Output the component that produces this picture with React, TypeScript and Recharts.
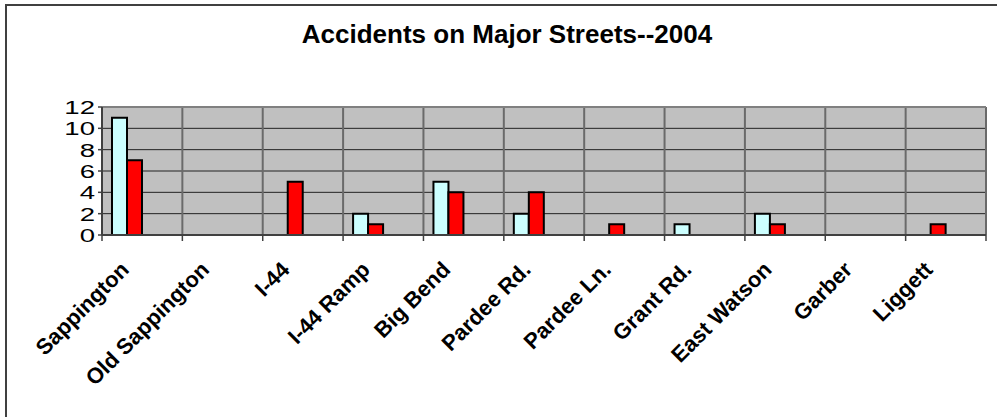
import React from 'react';
import { BarChart, Bar, XAxis, YAxis, CartesianGrid, ReferenceLine } from 'recharts';

const streets = [
  'Sappington', 'Old Sappington', 'I-44', 'I-44 Ramp', 'Big Bend', 'Pardee Rd.',
  'Pardee Ln.', 'Grant Rd.', 'East Watson', 'Garber', 'Liggett',
];
// blank cells in the sheet -> null, no bar drawn
const cyanValues = [11, null, null, 2, 5, 2, null, 1, 2, null, null];
const redValues = [7, null, 5, 1, 4, 4, 1, null, 1, null, 1];
const yTicks = [0, 2, 4, 6, 8, 10, 12];

const data = streets.map((name, i) => ({ name, cyan: cyanValues[i], red: redValues[i] }));

const W = 997;
const H = 417;
const PLOT_LEFT = 102;
const PLOT_RIGHT = 986;
const PLOT_TOP = 107;
const PLOT_BOTTOM = 235;
const BAND = (PLOT_RIGHT - PLOT_LEFT) / streets.length;
const FONT = 'Arial, "Liberation Sans", sans-serif';

const XTick = (props: any) => {
  const { x, y, payload, index } = props;
  const left = x - BAND / 2;
  return (
    <g>
      <line x1={left} y1={y} x2={left} y2={y + 6} stroke="#404040" strokeWidth={1.5} />
      {index === streets.length - 1 && (
        <line x1={left + BAND} y1={y} x2={left + BAND} y2={y + 6} stroke="#404040" strokeWidth={1.5} />
      )}
      <text
        x={0}
        y={0}
        transform={`translate(${x - 12},${y + 36}) rotate(-45)`}
        textAnchor="end"
        fontFamily={FONT}
        fontWeight="bold"
        fontSize={22}
        fill="#000"
      >
        {payload.value}
      </text>
    </g>
  );
};

const YTick = (props: any) => {
  const { x, y, payload } = props;
  return (
    <text
      x={0}
      y={0}
      dy="0.36em"
      transform={`translate(${x},${y}) scale(1.45,1)`}
      textAnchor="end"
      fontFamily={FONT}
      fontSize={19}
      fill="#000"
    >
      {payload.value}
    </text>
  );
};

export default function App() {
  return (
    <div style={{ position: 'absolute', left: 0, top: 0, width: W, height: H, background: '#fff', overflow: 'hidden' }}>
      <svg width={W} height={H} style={{ position: 'absolute', left: 0, top: 0 }}>
        <path d={`M6 ${H} L6 5 L${W} 5`} fill="none" stroke="#404040" strokeWidth={2} />
        <text x={507} y={43} textAnchor="middle" fontFamily={FONT} fontWeight="bold" fontSize={26} fill="#000">
          Accidents on Major Streets--2004
        </text>
      </svg>
      <div style={{ position: 'absolute', left: 0, top: 0 }}>
        <BarChart
          width={W}
          height={H}
          data={data}
          margin={{ top: PLOT_TOP, right: W - PLOT_RIGHT, bottom: 0, left: 0 }}
          barCategoryGap={10}
          barGap={0}
        >
          <CartesianGrid vertical={false} fill="#C0C0C0" stroke="#222" strokeWidth={1} />
          <CartesianGrid
            horizontal={false}
            stroke="#6a6a6a"
            strokeWidth={2}
            verticalCoordinatesGenerator={({ offset }: any) =>
              streets.map((_, i) => offset.left + ((i + 1) * offset.width) / streets.length)
            }
          />
          <ReferenceLine y={12} stroke="#808080" strokeWidth={2} />
          <XAxis
            dataKey="name"
            interval={0}
            height={H - PLOT_BOTTOM}
            tickLine={false}
            tickSize={0}
            tickMargin={0}
            axisLine={{ stroke: '#404040', strokeWidth: 2 }}
            tick={<XTick />}
          />
          <YAxis
            width={PLOT_LEFT}
            domain={[0, 12]}
            ticks={yTicks}
            interval={0}
            tickSize={4}
            tickMargin={3}
            tickLine={{ stroke: '#404040', strokeWidth: 1.5 }}
            axisLine={{ stroke: '#404040', strokeWidth: 2 }}
            tick={<YTick />}
          />
          <Bar dataKey="cyan" fill="#CCFFFF" stroke="#000" strokeWidth={2} isAnimationActive={false} />
          <Bar dataKey="red" fill="#FF0000" stroke="#000" strokeWidth={2} isAnimationActive={false} />
          {/* two empty series slots: the sheet's bars sit in the left half of each group */}
          <Bar dataKey="slot3" fill="none" isAnimationActive={false} />
          <Bar dataKey="slot4" fill="none" isAnimationActive={false} />
        </BarChart>
      </div>
    </div>
  );
}
